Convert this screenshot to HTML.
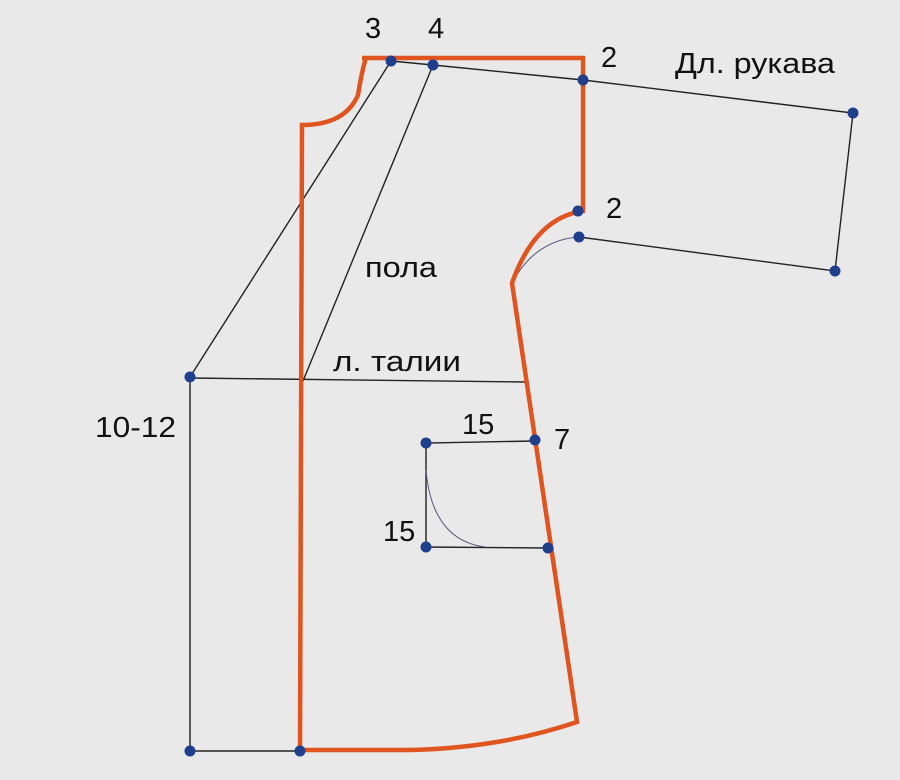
<!DOCTYPE html>
<html><head><meta charset="utf-8"><style>
html,body{margin:0;padding:0;background:#e9e9e9;}
svg{display:block}
text{font-family:"Liberation Sans",sans-serif;font-size:29px;fill:#111;}
</style></head><body>
<svg width="900" height="780" viewBox="0 0 900 780" xmlns="http://www.w3.org/2000/svg">
<rect width="900" height="780" fill="#e9e9e9"/>
<g fill="none" stroke="#222" stroke-width="1.4">
<line x1="391" y1="61" x2="190" y2="377"/>
<line x1="433" y1="65" x2="303" y2="381"/>
<polyline points="391,61 433,65 583,80 853,113 835,271 579,237"/>
<path d="M579,237 Q535,240 512,283" stroke="#557" stroke-width="1"/>
<line x1="190" y1="378" x2="527" y2="382"/>
<polyline points="190,377 190,751 300,751"/>
<polyline points="535,441 426,443 426,547 548,548"/>
<path d="M426,470 Q432,540 485,547" stroke="#557" stroke-width="1"/>
</g>
<path d="M362,58 L583,58 L583,211 Q535,218 512,283 L577,722 Q500,748 410,750 L300,750 L302,125 Q345,125 358,95 Q362,70 366,58" fill="none" stroke="#e0541f" stroke-width="4.5" stroke-linejoin="miter"/>
<g fill="#1f3e8c">
<circle cx="391" cy="61" r="5.5"/><circle cx="433" cy="65" r="5.5"/><circle cx="583" cy="80" r="5.5"/>
<circle cx="578" cy="211" r="5.5"/><circle cx="579" cy="237" r="5.5"/><circle cx="853" cy="113" r="5.5"/>
<circle cx="835" cy="271" r="5.5"/><circle cx="190" cy="377" r="5.5"/><circle cx="535" cy="440" r="5.5"/>
<circle cx="426" cy="443" r="5.5"/><circle cx="426" cy="547" r="5.5"/><circle cx="548" cy="548" r="5.5"/>
<circle cx="190" cy="751" r="5.5"/><circle cx="300" cy="751" r="5.5"/>
</g>
<text x="365" y="38">3</text>
<text x="428" y="38">4</text>
<text x="601" y="67">2</text>
<text x="675" y="73" textLength="160" lengthAdjust="spacingAndGlyphs">Дл. рукава</text>
<text x="606" y="218">2</text>
<text x="365" y="277" textLength="72" lengthAdjust="spacingAndGlyphs">пола</text>
<text x="333" y="371" textLength="128" lengthAdjust="spacingAndGlyphs">л. талии</text>
<text x="95" y="437" textLength="81" lengthAdjust="spacingAndGlyphs">10-12</text>
<text x="462" y="434">15</text>
<text x="554" y="449">7</text>
<text x="383" y="541">15</text>
</svg>
</body></html>
